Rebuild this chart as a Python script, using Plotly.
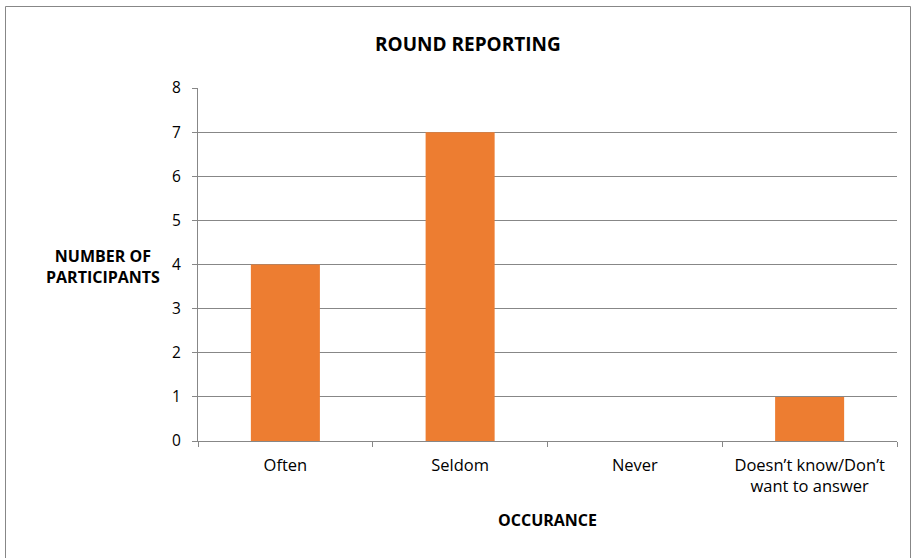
import plotly.graph_objects as go

categories = ["Often", "Seldom", "Never", "Doesn\u2019t know/Don\u2019t<br>want to answer"]
values = [4, 7, 0, 1]
y_ticks = [0, 1, 2, 3, 4, 5, 6, 7, 8]

FONT = "Open Sans"
L, R, T, B = 198, 15, 88, 117
W, H = 912, 558
pw, ph = W - L - R, H - T - B

def px2x(px):
    return (px - L) / pw

def px2y(py):
    return (H - B - py) / ph

fig = go.Figure()
fig.add_trace(go.Bar(x=categories, y=values, marker=dict(color="#ED7D31", line=dict(width=0)),
                     width=0.395))

fig.update_layout(
    width=W, height=H,
    margin=dict(l=L, r=R, t=T, b=B),
    paper_bgcolor="white", plot_bgcolor="white",
    showlegend=False,
    font=dict(family=FONT, size=15, color="#000000"),
    xaxis=dict(
        type="category", tickson="boundaries", ticks="outside", ticklen=5,
        tickcolor="#878787", showline=True, linecolor="#878787", linewidth=1,
        showgrid=False, tickfont=dict(family=FONT, size=16.5, color="#000"),
        range=[-0.5, 3.5], ticklabelstandoff=9,
    ),
    yaxis=dict(
        range=[0, 8], tickvals=y_ticks, ticks="outside", ticklen=5,
        tickcolor="#878787", showline=True, linecolor="#878787", linewidth=1,
        showgrid=True, gridcolor="#878787", gridwidth=1, zeroline=False,
        tickfont=dict(family=FONT, size=15.5, color="#000"), ticklabelstandoff=8,
    ),
    annotations=[
        dict(text="<b>ROUND REPORTING</b>", xref="paper", yref="paper",
             x=px2x(468), y=px2y(44), xanchor="center", yanchor="middle", showarrow=False,
             font=dict(family=FONT, size=19, color="#000")),
        dict(text="<b>NUMBER OF<br>PARTICIPANTS</b>", xref="paper", yref="paper",
             x=px2x(103), y=px2y(266), xanchor="center", yanchor="middle", showarrow=False,
             font=dict(family=FONT, size=16, color="#000")),
        dict(text="<b>OCCURANCE</b>", xref="paper", yref="paper",
             x=px2x(547), y=px2y(520), xanchor="center", yanchor="middle", showarrow=False,
             font=dict(family=FONT, size=16, color="#000")),
    ],
    shapes=[
        dict(type="rect", xref="paper", yref="paper",
             x0=px2x(5.5), x1=px2x(910.5), y0=px2y(570), y1=px2y(6.5),
             line=dict(color="#878787", width=1), fillcolor="rgba(0,0,0,0)", layer="above"),
    ],
)

fig.write_html("out.html", config={"displayModeBar": False},
               post_script="document.body.style.margin='0';document.body.style.padding='0';")
